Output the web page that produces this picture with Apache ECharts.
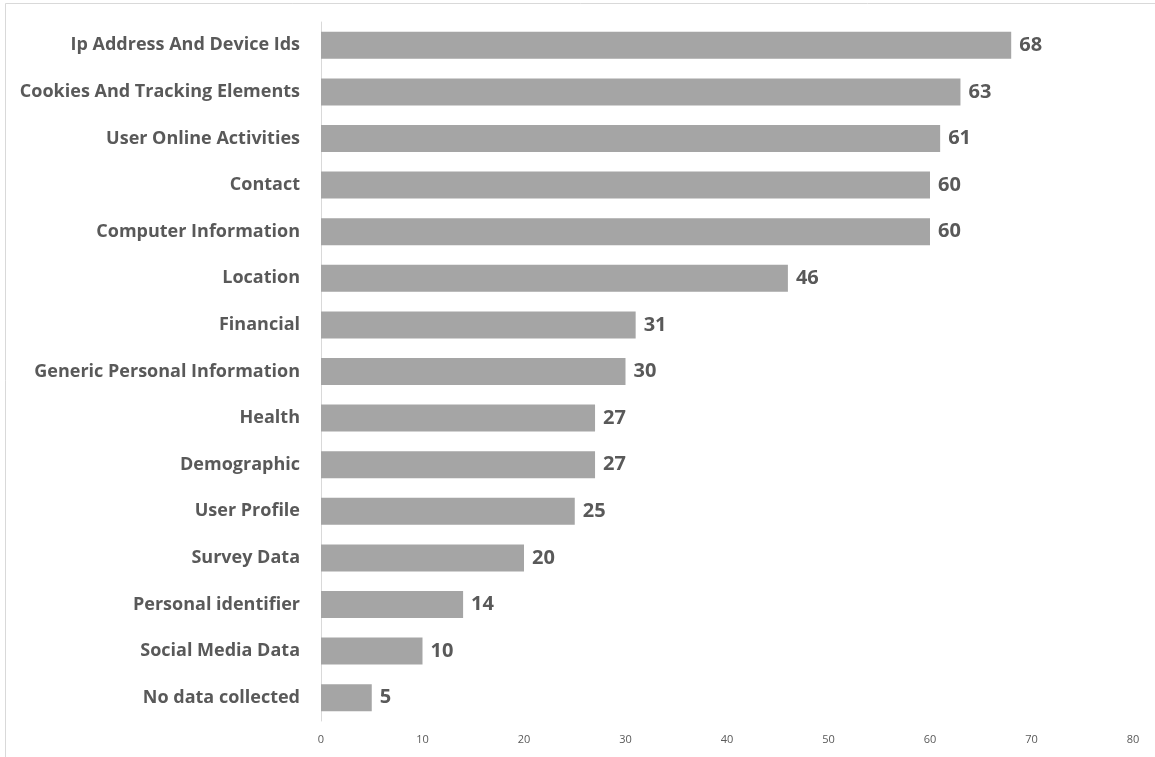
<!DOCTYPE html>
<html><head><meta charset="utf-8">
<script src="https://cdn.jsdelivr.net/npm/echarts@6/dist/echarts.min.js"></script>
<style>html,body{margin:0;padding:0;background:#fff;}#c{width:1155px;height:757px;}</style>
</head><body><div id="c"></div>
<script>
const categories = ["Ip Address And Device Ids","Cookies And Tracking Elements","User Online Activities","Contact","Computer Information","Location","Financial","Generic Personal Information","Health","Demographic","User Profile","Survey Data","Personal identifier","Social Media Data","No data collected"];
const values = [68,63,61,60,60,46,31,30,27,27,25,20,14,10,5];
const xTicks = [0,10,20,30,40,50,60,70,80];

const chart = echarts.init(document.getElementById('c'));
chart.setOption({
  animation:false,
  backgroundColor:'#fff',
  graphic:[
    {type:'line',shape:{x1:5.5,y1:3.5,x2:1155,y2:3.5},style:{stroke:'#d9d9d9',lineWidth:1},silent:true},
    {type:'line',shape:{x1:5.5,y1:3.5,x2:5.5,y2:757},style:{stroke:'#d9d9d9',lineWidth:1},silent:true}
  ],
  grid:{left:321,right:22,top:22,bottom:36,containLabel:false},
  xAxis:{type:'value',min:xTicks[0],max:xTicks[xTicks.length-1],interval:10,
    axisLine:{show:false},axisTick:{show:false},splitLine:{show:false},
    axisLabel:{color:'#595959',fontSize:11,fontFamily:'Open Sans',margin:13}},
  yAxis:{type:'category',data:categories,inverse:true,
    axisLine:{show:true,lineStyle:{color:'#d9d9d9',width:1}},axisTick:{show:false},
    axisLabel:{color:'#595959',fontSize:18,fontWeight:'bold',fontFamily:'Open Sans',margin:21}},
  series:[{type:'bar',data:values,barCategoryGap:'42%',
    itemStyle:{color:'#a5a5a5'},
    label:{show:true,position:'right',distance:8,color:'#595959',fontSize:20,fontWeight:'bold',fontFamily:'Open Sans'}}]
});
</script></body></html>
